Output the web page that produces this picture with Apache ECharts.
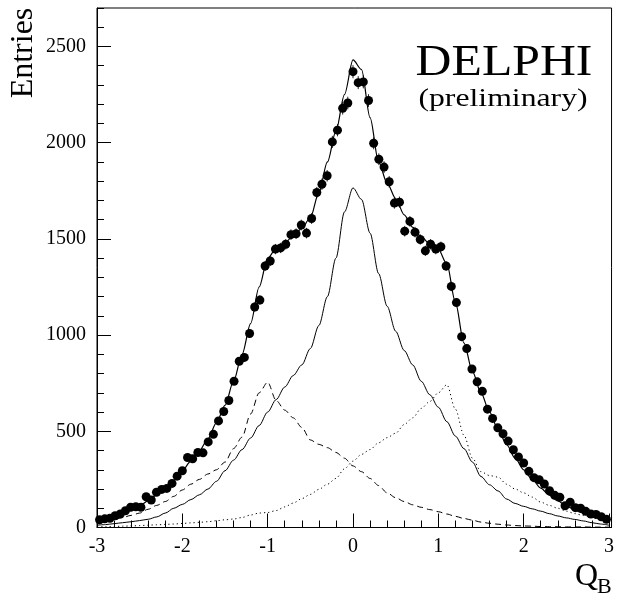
<!DOCTYPE html>
<html>
<head>
<meta charset="utf-8">
<script src="https://cdn.jsdelivr.net/npm/echarts@6/dist/echarts.min.js"></script>
<style>
  html, body { margin: 0; padding: 0; background: #fff; }
  #chart { width: 617px; height: 600px; }
</style>
</head>
<body>
<div id="chart"></div>
<script>
// bin centres of the Q_B histogram (99 bins from -3 to 3)
var binX = [
  -2.970, -2.909, -2.848, -2.788, -2.727, -2.667, -2.606, -2.545, -2.485, -2.424,
  -2.364, -2.303, -2.242, -2.182, -2.121, -2.061, -2.000, -1.939, -1.879, -1.818,
  -1.758, -1.697, -1.636, -1.576, -1.515, -1.455, -1.394, -1.333, -1.273, -1.212,
  -1.152, -1.091, -1.030, -0.970, -0.909, -0.848, -0.788, -0.727, -0.667, -0.606,
  -0.545, -0.485, -0.424, -0.364, -0.303, -0.242, -0.182, -0.121, -0.061, 0.000,
  0.061, 0.121, 0.182, 0.242, 0.303, 0.364, 0.424, 0.485, 0.545, 0.606,
  0.667, 0.727, 0.788, 0.848, 0.909, 0.970, 1.030, 1.091, 1.152, 1.212,
  1.273, 1.333, 1.394, 1.455, 1.515, 1.576, 1.636, 1.697, 1.758, 1.818,
  1.879, 1.939, 2.000, 2.061, 2.121, 2.182, 2.242, 2.303, 2.364, 2.424,
  2.485, 2.545, 2.606, 2.667, 2.727, 2.788, 2.848, 2.909, 2.970
];
// measured entries
var entries = [
  40, 45, 48, 61, 70, 87, 105, 108, 105, 160,
  143, 183, 198, 203, 229, 267, 295, 364, 357, 390,
  388, 445, 484, 554, 603, 660, 760, 864, 884, 1008,
  1146, 1182, 1359, 1385, 1447, 1453, 1472, 1522, 1527, 1572,
  1530, 1606, 1741, 1784, 1828, 2004, 2065, 2179, 2206, 2369,
  2312, 2316, 2219, 1997, 1914, 1873, 1797, 1686, 1691, 1540,
  1591, 1535, 1497, 1438, 1472, 1447, 1459, 1359, 1253, 1169,
  992, 930, 824, 757, 708, 615, 567, 518, 487, 449,
  404, 367, 335, 292, 259, 248, 226, 191, 167, 157,
  113, 131, 103, 100, 84, 70, 68, 56, 43
];

// x positions of the curves
var curveX = [
  -3.0, -2.9, -2.8, -2.7, -2.6, -2.5, -2.4, -2.3, -2.2, -2.1,
  -2.0, -1.9, -1.8, -1.7, -1.6, -1.5, -1.4, -1.3, -1.2, -1.1,
  -1.0, -0.9, -0.8, -0.7, -0.6, -0.5, -0.4, -0.3, -0.2, -0.1,
  0.0, 0.1, 0.2, 0.3, 0.4, 0.5, 0.6, 0.7, 0.8, 0.9,
  1.0, 1.1, 1.2, 1.3, 1.4, 1.5, 1.6, 1.7, 1.8, 1.9,
  2.0, 2.1, 2.2, 2.3, 2.4, 2.5, 2.6, 2.7, 2.8, 2.9, 3.0
];
// total fit
var fitY = [
  37, 43, 55, 70, 90, 112, 140, 170, 205, 245,
  295, 345, 400, 460, 545, 635, 760, 900, 1060, 1250,
  1400, 1450, 1480, 1515, 1555, 1610, 1740, 1900, 2060, 2250,
  2430, 2380, 2130, 1900, 1790, 1710, 1625, 1560, 1510, 1475,
  1445, 1370, 1170, 960, 810, 700, 600, 510, 430, 360,
  300, 250, 205, 168, 138, 112, 92, 74, 60, 48, 38
];
// component centred at 0 (solid)
var centralY = [
  12, 15, 20, 25, 30, 36, 43, 55, 75, 100,
  120, 145, 170, 200, 240, 295, 350, 405, 465, 530,
  600, 665, 730, 790, 845, 930, 1050, 1200, 1400, 1640,
  1765, 1705, 1530, 1320, 1150, 1020, 920, 845, 760, 690,
  625, 550, 475, 410, 340, 265, 222, 190, 148, 125,
  110, 97, 85, 72, 60, 50, 42, 34, 25, 18, 12
];
// component centred at -1 (dashed)
var negY = [
  22, 30, 40, 52, 63, 75, 95, 115, 135, 162,
  195, 225, 250, 278, 300, 340, 410, 470, 590, 700,
  755, 660, 610, 570, 520, 455, 432, 415, 390, 360,
  320, 290, 255, 218, 180, 155, 135, 118, 105, 93,
  82, 70, 58, 47, 38, 28, 22, 17, 13, 10,
  8, 7, 5, 4, 4, 3, 3, 3, 2, 2, 2
];
// component centred at +1 (dotted)
var posY = [
  3, 4, 5, 7, 8, 10, 12, 14, 16, 18,
  21, 24, 27, 30, 35, 40, 44, 52, 65, 75,
  78, 88, 107, 127, 150, 172, 198, 225, 255, 305,
  345, 380, 405, 440, 467, 490, 535, 570, 619, 655,
  700, 742, 615, 480, 360, 290, 270, 262, 225, 200,
  180, 158, 132, 115, 100, 85, 72, 62, 52, 42, 32
];

var xTickLabels = ["-3", "-2", "-1", "0", "1", "2", "3"];
var yTickLabels = ["0", "500", "1000", "1500", "2000", "2500"];

var serif = "Liberation Serif";

function pairs(xs, ys) {
  var out = [];
  for (var i = 0; i < xs.length; i++) out.push([xs[i], ys[i]]);
  return out;
}

var points = pairs(binX, entries);
var errData = [];
for (var i = 0; i < binX.length; i++) {
  errData.push([binX[i], entries[i], Math.sqrt(entries[i]) * 0.7]);
}

var myChart = echarts.init(document.getElementById("chart"), null, { renderer: "canvas" });
myChart.setOption({
  animation: false,
  backgroundColor: "#fff",
  grid: {
    left: 97,
    right: 2,
    top: 8,
    bottom: 72.5,
    show: true,
    borderColor: "#000",
    borderWidth: 1
  },
  xAxis: [
    {
      type: "value",
      position: "bottom",
      min: -3,
      max: 3.03,
      interval: 1,
      axisLine: { show: true, onZero: false, lineStyle: { color: "#000", width: 1 } },
      axisTick: { show: true, inside: true, length: 14, lineStyle: { color: "#000" } },
      splitLine: { show: false },
      axisLabel: {
        margin: 9,
        fontFamily: serif,
        fontSize: 20,
        color: "#000",
        interval: 0,
        showMaxLabel: true,
        formatter: function(v) {
          var k = Math.round(v);
          if (Math.abs(v - k) > 1e-6) return "";
          return xTickLabels[k + 3];
        }
      }
    },
    {
      type: "value",
      position: "bottom",
      min: -3,
      max: 3.03,
      interval: 0.2,
      axisLine: { show: false, onZero: false },
      axisTick: { show: true, inside: true, length: 7, lineStyle: { color: "#000" } },
      splitLine: { show: false },
      axisLabel: { show: false }
    }
  ],
  yAxis: [
    {
      type: "value",
      position: "left",
      min: 0,
      max: 2700,
      interval: 500,
      axisLine: { show: true, onZero: false, lineStyle: { color: "#000", width: 1 } },
      axisTick: { show: true, inside: true, length: 14, lineStyle: { color: "#000" } },
      splitLine: { show: false },
      axisLabel: {
        margin: 11,
        fontFamily: serif,
        fontSize: 20,
        color: "#000",
        showMaxLabel: false,
        formatter: function(v) {
          var k = Math.round(v / 500);
          if (Math.abs(v - k * 500) > 1e-6) return "";
          return yTickLabels[k] || "";
        }
      }
    },
    {
      type: "value",
      position: "left",
      offset: 0,
      min: 0,
      max: 2700,
      interval: 100,
      axisLine: { show: false, onZero: false },
      axisTick: { show: true, inside: true, length: 7, lineStyle: { color: "#000" } },
      splitLine: { show: false },
      axisLabel: { show: false }
    }
  ],
  graphic: [
    {
      type: "text",
      x: 24,
      y: 53,
      rotation: Math.PI / 2,
      style: { text: "Entries", font: "32px " + serif, fill: "#000", textAlign: "center", textVerticalAlign: "middle" }
    },
    {
      type: "text",
      x: 575,
      y: 577,
      style: { text: "Q", font: "32px " + serif, fill: "#000", textAlign: "left", textVerticalAlign: "middle" }
    },
    {
      type: "text",
      x: 597,
      y: 587,
      style: { text: "B", font: "22px " + serif, fill: "#000", textAlign: "left", textVerticalAlign: "middle" }
    },
    {
      type: "text",
      x: 504,
      y: 63,
      scaleX: 1.13,
      style: { text: "DELPHI", font: "44px " + serif, fill: "#000", textAlign: "center", textVerticalAlign: "middle" }
    },
    {
      type: "text",
      x: 503,
      y: 99,
      scaleX: 1.22,
      style: { text: "(preliminary)", font: "26px " + serif, fill: "#000", textAlign: "center", textVerticalAlign: "middle" }
    }
  ],
  series: [
    {
      name: "dotted",
      type: "line",
      data: pairs(curveX, posY),
      showSymbol: false,
      smooth: 0.3,
      smoothMonotone: "x",
      lineStyle: { color: "#000", width: 1, type: [1.2, 3] }
    },
    {
      name: "dashed",
      type: "line",
      data: pairs(curveX, negY),
      showSymbol: false,
      smooth: 0.3,
      smoothMonotone: "x",
      lineStyle: { color: "#000", width: 1, type: [6, 4] }
    },
    {
      name: "central",
      type: "line",
      data: pairs(curveX, centralY),
      showSymbol: false,
      smooth: 0.3,
      smoothMonotone: "x",
      lineStyle: { color: "#000", width: 1 }
    },
    {
      name: "fit",
      type: "line",
      data: pairs(curveX, fitY),
      showSymbol: false,
      smooth: 0.3,
      smoothMonotone: "x",
      lineStyle: { color: "#000", width: 1.2 }
    },
    {
      name: "errors",
      type: "custom",
      data: errData,
      renderItem: function(params, api) {
        var x = api.value(0), y = api.value(1), e = api.value(2);
        var p1 = api.coord([x, y - e]);
        var p2 = api.coord([x, y + e]);
        return {
          type: "line",
          shape: { x1: p1[0], y1: p1[1], x2: p2[0], y2: p2[1] },
          style: { stroke: "#222", lineWidth: 1 }
        };
      },
      z: 3
    },
    {
      name: "data",
      type: "scatter",
      data: points,
      symbol: "circle",
      symbolSize: 9,
      itemStyle: { color: "#000", opacity: 1 },
      z: 4
    }
  ]
});
</script>
</body>
</html>
